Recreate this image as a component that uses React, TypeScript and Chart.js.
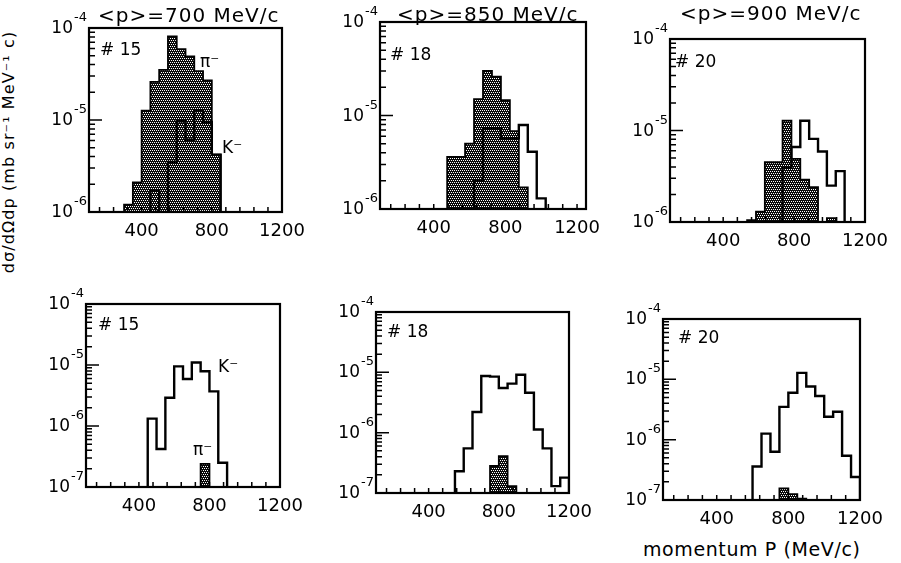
import React, { useEffect, useRef } from "react";
import { Chart, registerables } from "chart.js";

Chart.register(...registerables);

// ---------- data ----------
const BIN_WIDTH = 50; // MeV/c per histogram bin
const xTickLabels = [400, 800, 1200];
const xMinorStep = 80;
const momentumTitles = ["<p>=700 MeV/c", "<p>=850 MeV/c", "<p>=900 MeV/c"];
const runLabels = ["# 15", "# 18", "# 20"];
const yAxisTitle = "dσ/dΩdp (mb sr⁻¹ MeV⁻¹ c)";
const xAxisTitle = "momentum P (MeV/c)";

// top row (pi- hatched, K- outline)
const run15TopPiStart = 300;
const run15TopPi = [1.2e-6, 2.1e-6, 1.26e-5, 2.6e-5, 3.5e-5, 8.1e-5, 5.9e-5, 4.9e-5, 3.4e-5, 2.7e-5, 4.2e-6];
const run15TopKStart = 450;
const run15TopK = [1.7e-6, 0, 3.5e-6, 9.7e-6, 6.1e-6, 1.28e-5, 9.5e-6, 4.2e-6];

const run18TopPiStart = 475;
const run18TopPi = [3.6e-6, 3.6e-6, 5.0e-6, 1.5e-5, 3.0e-5, 2.6e-5, 1.46e-5, 6.8e-6, 1.7e-6];
const run18TopKStart = 625;
const run18TopK = [2.0e-6, 7.3e-6, 7.3e-6, 5.7e-6, 5.7e-6, 7.9e-6, 4.1e-6, 1.3e-6];

const run20TopPiStart = 535;
const run20TopPi = [1.05e-6, 1.3e-6, 4.5e-6, 4.5e-6, 1.28e-5, 4.9e-6, 2.9e-6, 2.4e-6, 0, 1.1e-6];
const run20TopKStart = 735;
const run20TopK = [3.9e-6, 6.6e-6, 1.28e-5, 8.1e-6, 5.9e-6, 2.5e-6, 3.6e-6];

// bottom row (K- outline, pi- hatched)
const run15BotKStart = 450;
const run15BotK = [1.32e-6, 4.2e-7, 2.9e-6, 9.5e-6, 5.9e-6, 1.1e-5, 7.9e-6, 3.7e-6, 2.5e-7];
const run15BotPiStart = 750;
const run15BotPi = [2.4e-7];

const run18BotKStart = 550;
const run18BotK = [2.3e-7, 5.5e-7, 2.2e-6, 8.7e-6, 8.5e-6, 5.5e-6, 6.5e-6, 9.1e-6, 4.6e-6, 1.13e-6, 5.5e-7, 1.3e-7, 1.8e-7];
const run18BotPiStart = 750;
const run18BotPi = [2.8e-7, 4.1e-7, 1.3e-7];

const run20BotKStart = 600;
const run20BotK = [3.6e-7, 1.26e-6, 6.3e-7, 3.5e-6, 6.0e-6, 1.28e-5, 7.6e-6, 5.3e-6, 2.4e-6, 2.9e-6, 5.4e-7, 2.4e-7];
const run20BotPiStart = 750;
const run20BotPi = [1.56e-7, 1.25e-7, 1.05e-7];

// ---------- layout ----------
const PAD = { left: 52, right: 26, top: 36, bottom: 32 };
const FONT = '"DejaVu Sans", sans-serif';

type Note = { text: string; dx: number; dy: number; size?: number };
type PanelCfg = {
  box: [number, number, number, number];
  xMin: number;
  xMax: number;
  yMin: number;
  yMax: number;
  piStart: number;
  pi: number[];
  kStart: number;
  k: number[];
  title?: { text: string; dx: number; dy: number };
  notes: Note[];
};

const panels: PanelCfg[] = [
  {
    box: [89, 28, 282, 212], xMin: 100, xMax: 1200, yMin: 1e-6, yMax: 1e-4,
    piStart: run15TopPiStart, pi: run15TopPi, kStart: run15TopKStart, k: run15TopK,
    title: { text: momentumTitles[0], dx: 9, dy: -6 },
    notes: [
      { text: runLabels[0], dx: 11, dy: 27 },
      { text: "π⁻", dx: 111, dy: 39 },
      { text: "K⁻", dx: 133, dy: 125 },
    ],
  },
  {
    box: [380, 22, 586, 209], xMin: 100, xMax: 1250, yMin: 1e-6, yMax: 1e-4,
    piStart: run18TopPiStart, pi: run18TopPi, kStart: run18TopKStart, k: run18TopK,
    title: { text: momentumTitles[1], dx: 17, dy: -1 },
    notes: [{ text: runLabels[1], dx: 10, dy: 38 }],
  },
  {
    box: [670, 39, 865, 222], xMin: 100, xMax: 1200, yMin: 1e-6, yMax: 1e-4,
    piStart: run20TopPiStart, pi: run20TopPi, kStart: run20TopKStart, k: run20TopK,
    title: { text: momentumTitles[2], dx: 10, dy: -19 },
    notes: [{ text: runLabels[2], dx: 5, dy: 28 }],
  },
  {
    box: [86, 304, 280, 487], xMin: 100, xMax: 1200, yMin: 1e-7, yMax: 1e-4,
    piStart: run15BotPiStart, pi: run15BotPi, kStart: run15BotKStart, k: run15BotK,
    notes: [
      { text: runLabels[0], dx: 12, dy: 26 },
      { text: "K⁻", dx: 132, dy: 68 },
      { text: "π⁻", dx: 107, dy: 151 },
    ],
  },
  {
    box: [376, 312, 569, 493], xMin: 100, xMax: 1200, yMin: 1e-7, yMax: 1e-4,
    piStart: run18BotPiStart, pi: run18BotPi, kStart: run18BotKStart, k: run18BotK,
    notes: [{ text: runLabels[1], dx: 11, dy: 25 }],
  },
  {
    box: [663, 319, 860, 500], xMin: 100, xMax: 1200, yMin: 1e-7, yMax: 1e-4,
    piStart: run20BotPiStart, pi: run20BotPi, kStart: run20BotKStart, k: run20BotK,
    notes: [{ text: runLabels[2], dx: 15, dy: 24 }],
  },
];

const FLOOR = 1e-10;

function histPoints(start: number, values: number[]) {
  const pts: { x: number; y: number }[] = [{ x: start, y: FLOOR }];
  values.forEach((v, i) => pts.push({ x: start + i * BIN_WIDTH, y: v > 0 ? v : FLOOR }));
  pts.push({ x: start + values.length * BIN_WIDTH, y: FLOOR });
  return pts;
}

function makeHatch(ctx: CanvasRenderingContext2D) {
  const c = document.createElement("canvas");
  c.width = 4;
  c.height = 4;
  const g = c.getContext("2d")!;
  g.fillStyle = "#0a0a0a";
  g.fillRect(0, 0, 4, 4);
  g.fillStyle = "#fff";
  [[0, 0], [2, 0], [1, 2], [3, 2]].forEach(([x, y]) => g.fillRect(x, y, 1, 1));
  return ctx.createPattern(c, "repeat");
}

function makeFramePlugin(cfg: PanelCfg) {
  return {
    id: "frame",
    afterDatasetsDraw(chart: any) {
      const { ctx, chartArea: a, scales } = chart;
      const xs = scales.x;
      const ys = scales.y;
      ctx.save();
      ctx.strokeStyle = "#000";
      ctx.fillStyle = "#000";
      // inward ticks
      ctx.lineWidth = 1.5;
      ctx.beginPath();
      for (let v = Math.ceil(xs.min / xMinorStep) * xMinorStep; v < xs.max - 1; v += xMinorStep) {
        if (v <= xs.min) continue;
        const px = xs.getPixelForValue(v);
        ctx.moveTo(px, a.bottom);
        ctx.lineTo(px, a.bottom - 5);
      }
      const kMin = Math.round(Math.log10(ys.min));
      const kMax = Math.round(Math.log10(ys.max));
      for (let k = kMin; k < kMax; k++) {
        for (let m = 1; m <= 9; m++) {
          const py = ys.getPixelForValue(m * Math.pow(10, k));
          const len = m === 1 ? 13 : 6;
          ctx.moveTo(a.left, py);
          ctx.lineTo(a.left + len, py);
        }
      }
      ctx.stroke();
      // frame
      ctx.lineWidth = 2.2;
      ctx.strokeRect(a.left, a.top, a.right - a.left, a.bottom - a.top);
      // x tick labels
      ctx.font = `18px ${FONT}`;
      ctx.textAlign = "center";
      ctx.textBaseline = "alphabetic";
      xTickLabels.forEach((v) => {
        ctx.fillText(String(v), xs.getPixelForValue(v), a.bottom + 24);
      });
      // y decade labels 10^k
      for (let k = kMin; k <= kMax; k++) {
        const py = ys.getPixelForValue(Math.pow(10, k));
        ctx.font = `17px ${FONT}`;
        ctx.textAlign = "right";
        ctx.fillText("10", a.left - 16, py + 5);
        ctx.font = `13px ${FONT}`;
        ctx.textAlign = "left";
        ctx.fillText(String(k), a.left - 15, py - 7);
      }
      // title
      if (cfg.title) {
        ctx.font = `20px ${FONT}`;
        ctx.textAlign = "left";
        (ctx as any).letterSpacing = "1px";
        ctx.fillText(cfg.title.text, a.left + cfg.title.dx, a.top + cfg.title.dy);
        (ctx as any).letterSpacing = "0px";
      }
      // notes
      cfg.notes.forEach((n) => {
        ctx.font = `${n.size || 17}px ${FONT}`;
        ctx.textAlign = "left";
        ctx.fillText(n.text, a.left + n.dx, a.top + n.dy);
      });
      ctx.restore();
    },
  };
}

function Panel({ cfg }: { cfg: PanelCfg }) {
  const ref = useRef<HTMLCanvasElement>(null);
  const [l, t, r, b] = cfg.box;
  const w = r - l + PAD.left + PAD.right;
  const h = b - t + PAD.top + PAD.bottom;

  useEffect(() => {
    const canvas = ref.current!;
    const ctx = canvas.getContext("2d")!;
    const hatch = makeHatch(ctx);
    const chart = new Chart(canvas, {
      type: "line",
      data: {
        datasets: [
          {
            label: "K⁻",
            data: histPoints(cfg.kStart, cfg.k),
            stepped: "before",
            borderColor: "#000",
            borderWidth: 2.4,
            pointRadius: 0,
            fill: false,
            order: 0,
          } as any,
          {
            label: "π⁻",
            data: histPoints(cfg.piStart, cfg.pi),
            stepped: "before",
            borderColor: "#000",
            borderWidth: 1.8,
            backgroundColor: hatch,
            fill: "start",
            pointRadius: 0,
            order: 1,
          } as any,
        ],
      },
      options: {
        animation: false,
        responsive: false,
        events: [],
        layout: { padding: PAD },
        plugins: { legend: { display: false }, tooltip: { enabled: false } },
        scales: {
          x: { type: "linear", min: cfg.xMin, max: cfg.xMax, display: false },
          y: { type: "logarithmic", min: cfg.yMin, max: cfg.yMax, display: false },
        },
        elements: { line: { tension: 0 } },
      } as any,
      plugins: [makeFramePlugin(cfg)],
    });
    return () => chart.destroy();
  }, [cfg]);

  return (
    <canvas
      ref={ref}
      width={w}
      height={h}
      style={{ position: "absolute", left: l - PAD.left, top: t - PAD.top, width: w, height: h }}
    />
  );
}

export default function App() {
  return (
    <div
      style={{
        position: "absolute",
        left: 0,
        top: 0,
        width: 901,
        height: 563,
        overflow: "hidden",
        background: "#fff",
        fontFamily: FONT,
      }}
    >
      {panels.map((p, i) => (
        <Panel key={i} cfg={p} />
      ))}
      <div
        style={{
          position: "absolute",
          left: 9 - 130,
          top: 152 - 10,
          width: 260,
          height: 20,
          lineHeight: "20px",
          fontSize: 16,
          letterSpacing: "1.1px",
          textAlign: "center",
          whiteSpace: "nowrap",
          transform: "rotate(-90deg)",
          color: "#000",
        }}
      >
        {yAxisTitle}
      </div>
      <div
        style={{
          position: "absolute",
          left: 643,
          top: 540,
          fontSize: 19,
          lineHeight: "19px",
          letterSpacing: "0.6px",
          whiteSpace: "nowrap",
          color: "#000",
        }}
      >
        {xAxisTitle}
      </div>
    </div>
  );
}
